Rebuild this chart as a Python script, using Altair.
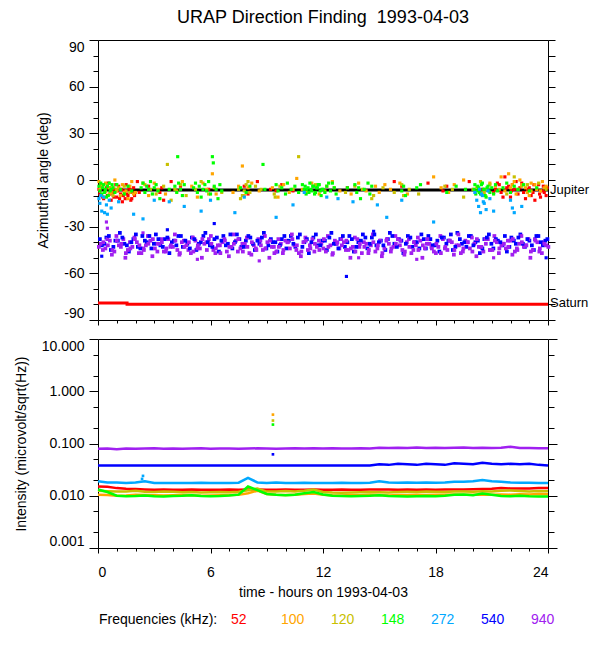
import altair as alt
import pandas as pd

FONT = "Liberation Sans"

# ---------------- categories / colours ----------------
FREQS = ["52", "100", "120", "148", "272", "540", "940"]
COLORS = ["#ff0000", "#ffa500", "#c8c000", "#00ff00", "#00a8ff", "#0000ff", "#a020f0"]

# ---------------- tick labels ----------------
HOUR_TICKS = [0, 1, 2, 3, 4, 5, 6, 7, 8, 9, 10, 11, 12, 13, 14, 15, 16, 17, 18, 19, 20, 21, 22, 23, 24]
ANGLE_TICKS = [-90, -80, -70, -60, -50, -40, -30, -20, -10, 0, 10, 20, 30, 40, 50, 60, 70, 80, 90]
LOG_TICKS = [0.001, 0.002, 0.005, 0.01, 0.02, 0.05, 0.1, 0.2, 0.5, 1, 2, 5, 10]

# ---------------- top panel: reference lines ----------------
JUP_T = [0, 24]
JUP_A = [-6.5, -6.5]
SAT_T = [0, 1.55, 24]
SAT_A = [-79, -79.8, -79.8]
LABEL_T = [24, 24]
LABEL_A = [-6.5, -79]
LABEL_TXT = ["Jupiter", "Saturn"]

# ---------------- top panel: direction-finding points (hour, angle) ----------------
PTS_52 = [(0.05,-6),(0.1,-9),(0.15,-3),(0.2,-4),(0.25,-11),(0.3,-12),(0.35,-8),(0.4,-7),(0.45,-5),(0.5,-10),
          (0.55,-2),(0.6,-5),(0.65,-9),(0.7,-13),(0.75,-6),(0.8,-8),(0.85,-11),(0.9,-6),(0.95,-3),(1.0,-11),
          (1.05,-7),(1.1,-4),(1.15,-12),(1.2,-9),(1.25,-6),(1.3,-14),(1.35,-10),(1.4,-7),(1.45,-12),(1.5,-3),
          (1.55,-9),(1.6,-10),(1.65,-5),(1.7,-6),(1.75,-13),(1.8,-12),(1.85,-8),(1.9,-5),(1.95,-10),
          (2.1,-1),(2.2,-8),(2.7,-4),(3.3,-8),(3.4,-5),(3.5,-13),(3.9,-1),(4.4,-4),(5.9,-6),(7.8,-4),(8.0,-9),
          (8.5,-1),(9.2,-6),(9.5,-7),(9.8,-3),(10.4,-7),(13.3,-5),(15.8,-1),(16.2,-4),(17.6,-2),(18.4,-7),
          (18.6,-4),(19.8,-1),(20.5,-6),
          (21.1,-8),(21.2,-6),(21.3,-2),(21.4,-3),(21.5,-8),(21.6,-11),(21.7,2),(21.8,-5),(21.9,-4),(22.0,-11),
          (22.05,-7),(22.1,-3),(22.2,-6),(22.3,-1),(22.4,-9),(22.5,-5),(22.6,-2),(22.7,-8),(22.8,-12),(22.9,-6),
          (23.0,-5),(23.1,-10),(23.2,-8),(23.25,-3),(23.3,-13),(23.4,-6),(23.5,-3),(23.55,-9),(23.6,-11),(23.7,-7),
          (23.75,-4),(23.8,-8),(23.9,-10),(23.95,-5)]
PTS_100 = [(0.05,-1),(0.1,-6),(0.2,-4),(0.3,-11),(0.4,-2),(0.5,-3),(0.6,-9),(0.7,-8),(0.8,-5),(0.9,0),
           (1.0,-7),(1.1,-5),(1.2,-10),(1.3,-3),(1.4,-8),(1.5,-7),(1.6,-12),(1.7,-4),(1.8,-1),(1.9,-9),
           (2.0,-8),(2.5,-3),(2.7,-10),(3.0,-2),(3.2,-6),(3.6,-9),(4.2,-7),(4.5,-1),(5.0,-4),(5.3,-11),
           (5.6,-2),(5.8,-6),(6.1,4),(6.3,-9),(7.2,-8),(7.5,-4),(7.7,9),(7.8,-10),(8.0,-5),(8.2,-2),
           (8.6,-7),(9.3,-5),(9.6,-11),(9.9,-3),(10.2,-8),(10.6,1),(10.9,-6),(11.4,-2),(11.8,-9),(12.2,-4),
           (12.5,-1),(12.9,-7),(13.5,-9),(13.9,-2),(14.3,-7),(14.8,-4),(15.0,-8),(15.3,-3),(15.6,-6),(16.1,-2),
           (16.5,-9),(17.9,2),(18.3,-5),(18.7,-8),(19.0,-3),(19.5,0),(20.0,-6),(20.5,-9),(20.9,-2),(21.2,-4),
           (21.5,2),(21.7,-7),(21.9,4),(22.0,-5),(22.1,-3),(22.2,-1),(22.3,-9),(22.4,-6),(22.5,0),(22.6,-3),
           (22.8,-5),(22.9,-8),(23.0,-10),(23.1,-2),(23.3,-3),(23.4,-6),(23.6,-7),(23.7,-1),(23.8,-5),(23.9,-4)]
PTS_120 = [(0.2,-3),(0.4,-7),(0.6,-5),(0.8,-10),(1.0,-6),(1.4,-4),(1.7,-8),(2.4,-2),(2.8,-6),(3.1,-9),
           (3.5,-4),(3.7,10),(3.9,-13),(4.1,-6),(4.4,-3),(4.7,-10),(5.2,-6),(5.5,-1),(5.9,-9),(6.2,-5),
           (6.6,-8),(7.5,-6),(7.6,-12),(7.7,-10),(7.8,-7),(7.9,-3),(8.0,-1),(8.1,-8),(8.4,-4),(8.7,-6),
           (9.4,-9),(9.45,-11),(9.7,-4),(10.4,-6),(10.7,15),(11.1,-8),(11.6,-3),(12.1,-7),(12.6,-5),(13.2,-8),
           (13.7,-4),(14.1,-6),(14.6,-12),(14.7,-10),(15.2,-5),(15.8,-8),(16.2,-3),(16.3,-10),(16.6,-6),(17.1,-9),
           (18.5,-4),(18.9,-6),(19.5,-11),(20.2,-5),(20.4,-1),(20.6,-8),(20.7,-6),(20.9,-3),(21.4,-6),(21.8,-9),
           (22.2,2),(22.6,-4),(22.9,-3),(23.1,-7),(23.5,-2),(23.9,-6)]
PTS_148 = [(0.05,-4),(0.1,-7),(0.15,-2),(0.2,-9),(0.25,-5),(0.3,-3),(0.35,-8),(0.4,-6),(0.45,-11),(0.5,-4),
           (0.55,-10),(0.6,-2),(0.65,-7),(0.7,-6),(0.75,-3),(0.8,-5),(0.9,-8),(1.0,-3),(1.2,-6),(1.4,-9),
           (1.6,-4),(1.8,-7),(2.3,-5),(2.4,-2),(2.5,-8),(2.6,-4),(2.7,-6),(2.8,-1),(2.9,-9),(3.0,-5),
           (3.1,-3),(3.2,-7),(3.3,-12),(3.8,-6),(4.1,-4),(4.2,-8),(4.25,15),(4.3,-2),(4.4,-6),(4.5,-10),
           (4.6,-3),(5.1,-5),(5.2,-2),(5.3,-8),(5.4,-4),(5.5,-11),(5.6,-6),(5.7,-3),(5.8,-7),(5.9,-1),
           (6.0,-9),(6.1,15),(6.15,11),(6.2,-4),(6.3,-6),(6.4,-12),(6.5,-3),(6.6,-7),(7.6,-5),(7.9,-8),
           (8.1,-4),(8.8,10),(8.9,-6),(9.5,-3),(9.6,-7),(9.8,-5),(10.0,-9),(10.1,-2),(10.3,-6),(10.5,-4),
           (10.7,-8),(10.9,-3),(11.0,-6),(11.05,-4),(11.1,-9),(11.15,-6),(11.2,-5),(11.25,-8),(11.3,-2),(11.35,-6),
           (11.4,-7),(11.45,-4),(11.5,-4),(11.55,-9),(11.6,-8),(11.65,-5),(11.7,-5),(11.75,-3),(11.8,-3),(11.85,-7),
           (11.9,-10),(11.95,-6),(12.0,-6),(12.1,-8),(12.2,-4),(12.3,-2),(12.4,-7),(12.5,-2),(12.6,-5),(12.7,-9),
           (13.3,-5),(13.7,-3),(13.8,-8),(13.9,-5),(14.0,-12),(14.2,-6),(14.4,-2),(14.5,-9),(14.6,-4),(16.2,-7),
           (16.3,-4),(16.4,-10),(17.0,-5),(17.2,-3),(18.6,-8),(19.1,-4),(19.6,-6),(20.05,-6),(20.1,-3),(20.15,-9),
           (20.2,-7),(20.25,-4),(20.3,-5),(20.35,-8),(20.4,-9),(20.45,-3),(20.5,-2),(20.55,-6),(20.6,-6),(20.65,-10),
           (20.7,-11),(20.75,-5),(20.8,-4),(20.85,-7),(20.9,-8),(21.0,-5),(21.1,-9),(21.2,-3),(21.3,-7),(21.6,-5),
           (21.8,-2),(22.0,-8),(22.2,-4),(22.4,-6),(22.7,-3),(23.0,-7),(23.4,-5)]
PTS_272 = [(0.05,-12),(0.1,-15),(0.15,-10),(0.2,-20),(0.3,-11),(0.35,-21),(0.45,-16),(0.5,-22),(0.6,-13),(0.7,-18),
           (1.1,-14),(1.9,-22),(2.4,-25),(3.0,-13),(3.8,-14),(4.6,-17),(5.5,-20),(6.0,-13),(7.3,-21),(7.8,-11),
           (9.5,-24),(10.4,-16),(11.0,-8),(12.2,-11),(12.8,-12),(13.6,-14),(14.9,-16),(15.4,-24),(16.2,-13),(17.9,-27),
           (20.1,-8),(20.2,-13),(20.3,-17),(20.35,-6),(20.4,-21),(20.45,-9),(20.5,-10),(20.55,-14),(20.6,-15),(20.7,-19),
           (20.8,-7),(20.9,-12),(21.1,-20),(22.0,-13),(22.1,-18),(22.2,-21),(22.6,-17)]
PTS_540_OUT = [(0.2,-49),(3.7,-32),(6.2,-28),(13.25,-62),(14.7,-33),(23.9,-50)]
PTS_940_OUT = [(0.45,-27),(0.5,-31),(2.4,-34),(5.3,-51),(8.6,-52),(13.9,-50),(17.0,-51),(21.1,-50)]

# dense band of 540 / 940 kHz directions
BAND_T = [0.10,0.34,0.58,0.82,1.06,1.30,1.54,1.78,2.02,2.26,2.50,2.74,2.98,3.22,3.46,3.70,3.94,4.18,4.42,4.66,
          4.90,5.14,5.38,5.62,5.86,6.10,6.34,6.58,6.82,7.06,7.30,7.54,7.78,8.02,8.26,8.50,8.74,8.98,9.22,9.46,
          9.70,9.94,10.18,10.42,10.66,10.90,11.14,11.38,11.62,11.86,12.10,12.34,12.58,12.82,13.06,13.30,13.54,13.78,14.02,14.26,
          14.50,14.74,14.98,15.22,15.46,15.70,15.94,16.18,16.42,16.66,16.90,17.14,17.38,17.62,17.86,18.10,18.34,18.58,18.82,19.06,
          19.30,19.54,19.78,20.02,20.26,20.50,20.74,20.98,21.22,21.46,21.70,21.94,22.18,22.42,22.66,22.90,23.14,23.38,23.62,23.86]
B540_1 = [-38,-41,-36,-43,-39,-37,-42,-40,-35,-44,-39,-36,-41,-38,-43,-37,-40,-42,-36,-39,
          -44,-38,-41,-36,-40,-43,-37,-39,-42,-35,-40,-38,-43,-36,-41,-39,-37,-44,-38,-40,
          -42,-36,-39,-41,-37,-43,-38,-40,-35,-42,-39,-37,-41,-44,-36,-40,-38,-43,-39,-37,
          -41,-35,-40,-42,-38,-36,-43,-39,-41,-37,-40,-44,-38,-36,-42,-39,-37,-41,-35,-43,
          -38,-40,-36,-42,-39,-44,-37,-41,-38,-40,-36,-43,-39,-37,-41,-38,-42,-36,-40,-39]
B540_2 = [-42,-37,-45,-39,-34,-41,-46,-38,-43,-36,-40,-44,-35,-42,-38,-47,-39,-36,-43,-41,
          -37,-45,-40,-34,-42,-38,-46,-36,-41,-44,-35,-43,-39,-37,-45,-41,-34,-42,-40,-46,
          -38,-44,-36,-43,-35,-40,-47,-37,-42,-39,-45,-34,-41,-38,-43,-36,-46,-40,-35,-44,
          -37,-42,-39,-45,-34,-41,-38,-47,-36,-43,-40,-35,-44,-38,-42,-46,-37,-39,-45,-34,
          -41,-43,-36,-40,-47,-38,-35,-44,-39,-42,-46,-37,-41,-35,-43,-39,-45,-36,-42,-38]
B940_1 = [-41,-44,-39,-46,-42,-38,-45,-43,-40,-47,-42,-39,-44,-41,-46,-38,-43,-45,-40,-42,
          -47,-39,-44,-41,-38,-45,-42,-40,-46,-43,-39,-44,-41,-47,-42,-38,-45,-40,-43,-46,
          -41,-39,-44,-42,-47,-40,-45,-38,-43,-41,-46,-42,-39,-44,-40,-45,-43,-38,-47,-41,
          -42,-46,-39,-44,-41,-43,-38,-45,-40,-47,-42,-39,-44,-41,-46,-43,-38,-45,-40,-42,
          -47,-39,-44,-41,-43,-46,-38,-45,-40,-42,-44,-39,-46,-41,-43,-38,-45,-40,-47,-42]
B940_2 = [-45,-38,-48,-36,-43,-50,-40,-37,-47,-44,-36,-49,-41,-38,-46,-43,-35,-48,-39,-45,
          -37,-44,-50,-40,-36,-47,-42,-38,-49,-35,-46,-41,-37,-48,-44,-39,-36,-50,-43,-38,
          -47,-40,-35,-45,-49,-37,-42,-46,-39,-44,-36,-48,-41,-38,-45,-50,-37,-43,-40,-47,
          -35,-44,-49,-39,-46,-36,-42,-48,-38,-45,-37,-50,-41,-43,-47,-36,-44,-39,-48,-35,
          -46,-40,-37,-49,-43,-38,-45,-36,-47,-41,-39,-48,-44,-36,-42,-50,-38,-46,-40,-43]
B940_3 = [-43,-40,-42,-45,-39,-41,-47,-44,-38,-42,-45,-41,-38,-46,-40,-44,-42,-39,-47,-43,
          -40,-46,-42,-38,-45,-41,-44,-47,-39,-43,-41,-38,-46,-43,-40,-45,-42,-44,-39,-47,
          -43,-45,-40,-38,-42,-46,-39,-44,-41,-45,-38,-43,-47,-40,-42,-39,-44,-46,-41,-43,
          -45,-40,-42,-47,-38,-44,-41,-39,-46,-43,-40,-45,-42,-38,-44,-41,-47,-43,-39,-45,
          -42,-44,-40,-46,-38,-43,-41,-45,-39,-44,-41,-43,-38,-45,-40,-42,-46,-39,-44,-41]

# ---------------- bottom panel: intensities ----------------
HALF_HOURS = [0, 0.5, 1, 1.5, 2, 2.5, 3, 3.5, 4, 4.5, 5, 5.5, 6, 6.5, 7, 7.5, 8, 8.5, 9, 9.5,
              10, 10.5, 11, 11.5, 12, 12.5, 13, 13.5, 14, 14.5, 15, 15.5, 16, 16.5, 17, 17.5, 18, 18.5, 19, 19.5,
              20, 20.5, 21, 21.5, 22, 22.5, 23, 23.5, 24]
I_52 = [0.0150,0.0148,0.0140,0.0136,0.0135,0.0132,0.0130,0.0131,0.0130,0.0130,0.0131,0.0130,0.0130,0.0130,0.0131,0.0130,
        0.0132,0.0131,0.0130,0.0130,0.0131,0.0130,0.0130,0.0131,0.0130,0.0130,0.0131,0.0130,0.0130,0.0131,0.0132,0.0131,
        0.0130,0.0131,0.0130,0.0131,0.0130,0.0131,0.0132,0.0131,0.0133,0.0135,0.0136,0.0140,0.0138,0.0137,0.0138,0.0140,0.0140]
I_100 = [0.0105,0.0103,0.0100,0.0101,0.0104,0.0103,0.0102,0.0101,0.0102,0.0103,0.0102,0.0100,0.0101,0.0102,0.0103,0.0104,
         0.0112,0.0125,0.0108,0.0104,0.0103,0.0105,0.0108,0.0110,0.0104,0.0102,0.0101,0.0103,0.0102,0.0104,0.0103,0.0101,
         0.0103,0.0102,0.0104,0.0103,0.0105,0.0104,0.0106,0.0105,0.0104,0.0106,0.0105,0.0106,0.0105,0.0107,0.0106,0.0108,0.0107]
I_120 = [0.0125,0.0122,0.0120,0.0121,0.0124,0.0119,0.0118,0.0120,0.0119,0.0117,0.0118,0.0116,0.0117,0.0118,0.0117,0.0119,
         0.0128,0.0138,0.0120,0.0121,0.0123,0.0120,0.0125,0.0132,0.0118,0.0115,0.0114,0.0116,0.0117,0.0118,0.0117,0.0116,
         0.0118,0.0119,0.0118,0.0120,0.0119,0.0118,0.0120,0.0121,0.0119,0.0122,0.0121,0.0124,0.0126,0.0123,0.0121,0.0123,0.0122]
I_148 = [0.0132,0.0118,0.0100,0.0098,0.0099,0.0101,0.0098,0.0097,0.0099,0.0100,0.0102,0.0099,0.0098,0.0099,0.0101,0.0105,
         0.0150,0.0128,0.0108,0.0104,0.0102,0.0105,0.0112,0.0118,0.0106,0.0100,0.0099,0.0098,0.0099,0.0100,0.0102,0.0099,
         0.0098,0.0097,0.0098,0.0099,0.0098,0.0100,0.0104,0.0106,0.0102,0.0110,0.0104,0.0099,0.0098,0.0100,0.0098,0.0097,0.0097]
I_272 = [0.0190,0.0180,0.0180,0.0175,0.0180,0.0190,0.0175,0.0175,0.0175,0.0175,0.0175,0.0178,0.0175,0.0175,0.0175,0.0178,
         0.0220,0.0180,0.0175,0.0180,0.0175,0.0175,0.0178,0.0175,0.0175,0.0175,0.0178,0.0175,0.0175,0.0178,0.0190,0.0180,
         0.0178,0.0180,0.0178,0.0180,0.0178,0.0180,0.0185,0.0185,0.0190,0.0200,0.0190,0.0185,0.0180,0.0178,0.0178,0.0175,0.0175]
I_540 = [0.038,0.038,0.038,0.038,0.038,0.038,0.038,0.038,0.038,0.038,0.038,0.038,0.038,0.038,0.038,0.038,
         0.038,0.038,0.038,0.038,0.038,0.038,0.038,0.038,0.038,0.038,0.038,0.038,0.038,0.038,0.040,0.039,
         0.041,0.040,0.039,0.041,0.040,0.039,0.042,0.041,0.040,0.043,0.041,0.040,0.041,0.040,0.041,0.039,0.038]
I_940 = [0.079,0.080,0.078,0.080,0.079,0.080,0.081,0.079,0.080,0.079,0.080,0.081,0.079,0.080,0.080,0.079,
         0.080,0.081,0.080,0.079,0.080,0.081,0.080,0.081,0.080,0.081,0.080,0.080,0.081,0.080,0.083,0.082,
         0.083,0.082,0.084,0.082,0.083,0.082,0.083,0.084,0.082,0.083,0.082,0.083,0.087,0.082,0.082,0.081,0.081]
SPIKES = [("100", 9.33, 0.357), ("120", 9.33, 0.275), ("148", 9.33, 0.23), ("540", 9.33, 0.062),
          ("272", 2.35, 0.021), ("272", 2.4, 0.024)]

# ---------------- data frames ----------------
def pairs_df(pairs, freq):
    return pd.DataFrame({"t": [p[0] for p in pairs], "a": [p[1] for p in pairs], "freq": freq})

pts_df = pd.concat([pairs_df(PTS_52, "52"), pairs_df(PTS_100, "100"), pairs_df(PTS_120, "120"),
                    pairs_df(PTS_148, "148"), pairs_df(PTS_272, "272"),
                    pairs_df(PTS_540_OUT, "540"), pairs_df(PTS_940_OUT, "940")], ignore_index=True)

def band_df(vals, freq):
    return pairs_df(list(zip(BAND_T, vals)), freq)

jup_df = pd.DataFrame({"t": JUP_T, "a": JUP_A})
sat_df = pd.DataFrame({"t": SAT_T, "a": SAT_A})
lab_df = pd.DataFrame({"t": LABEL_T, "a": LABEL_A, "name": LABEL_TXT})

INT = {"52": I_52, "100": I_100, "120": I_120, "148": I_148, "272": I_272, "540": I_540, "940": I_940}
rows = []
for f in FREQS:
    for t, v in zip(HALF_HOURS, INT[f]):
        rows.append({"t": t, "v": v, "freq": f})
int_df = pd.DataFrame(rows)
spk_df = pd.DataFrame({"freq": [s[0] for s in SPIKES], "t": [s[1] for s in SPIKES], "v": [s[2] for s in SPIKES]})

# ---------------- encodings ----------------
color_expr = " : ".join(["datum.value == '%s' ? '%s'" % (f, c) for f, c in zip(FREQS, COLORS)]) + " : 'black'"
LEGEND = alt.Legend(orient="none", legendX=1, legendY=573, direction="horizontal",
                    title="Frequencies (kHz):", titleOrient="left", titleFont=FONT, titleFontSize=14,
                    titleFontWeight="normal", titleColor="black", titlePadding=-1,
                    labelFont=FONT, labelFontSize=14, labelColor={"expr": color_expr}, labelOffset=0,
                    symbolType="circle", symbolSize=1, symbolOpacity=0, symbolStrokeWidth=0,
                    columnPadding=12, gridAlign="all")
COLOR = alt.Color("freq:N", scale=alt.Scale(domain=FREQS, range=COLORS), legend=LEGEND)

x_tick = {"condition": {"test": "datum.value % 6 == 0", "value": 5}, "value": 3}
X_SCALE = alt.Scale(domain=[0, 24], nice=False, zero=False)
X_TOP = alt.X("t:Q", scale=X_SCALE, axis=alt.Axis(values=HOUR_TICKS, labels=False, title=None,
                                                  domain=False, tickSize=x_tick))
X_BOT = alt.X("t:Q", scale=X_SCALE, axis=alt.Axis(values=HOUR_TICKS, labelOverlap=False,
                                                  labelExpr="datum.value % 6 == 0 ? datum.label : ''",
                                                  title="time - hours on 1993-04-03", domain=False,
                                                  tickSize=x_tick, labelPadding=12, titlePadding=6))

A_SCALE = alt.Scale(domain=[-90, 90], nice=False, zero=False)
Y_LEFT = alt.Y("a:Q", scale=A_SCALE, axis=alt.Axis(
    values=ANGLE_TICKS, labelOverlap=False, labelFlush=True,
    labelExpr="datum.value % 30 == 0 ? '' + datum.value : ''",
    tickSize={"condition": {"test": "datum.value % 30 == 0", "value": 9}, "value": 5},
    labelPadding=5, title="Azimuthal angle (deg)", titlePadding=13, domain=False))
Y_NONE = alt.Y("a:Q", scale=A_SCALE, axis=None)
Y_RIGHT = alt.Y("a:Q", scale=A_SCALE, axis=alt.Axis(orient="right", values=ANGLE_TICKS, labels=False,
                                                    title=None, tickSize=7, domain=False))

decade = "(datum.value == 0.001 || datum.value == 0.01 || datum.value == 0.1 || datum.value == 1 || datum.value == 10)"
V_SCALE = alt.Scale(type="log", domain=[0.001, 10], nice=False)
V_LEFT = alt.Y("v:Q", scale=V_SCALE, axis=alt.Axis(
    values=LOG_TICKS, format=".3f", labelOverlap=False, labelFlush=True,
    labelExpr=decade + " ? datum.label : ''",
    tickSize={"condition": {"test": decade, "value": 9}, "value": 5},
    labelPadding=5, title="Intensity (microvolt/sqrt(Hz))", titlePadding=13, domain=False))
V_RIGHT = alt.Y("v:Q", scale=V_SCALE, axis=alt.Axis(
    orient="right", values=LOG_TICKS, labels=False, title=None, domain=False,
    tickSize={"condition": {"test": decade, "value": 9}, "value": 6}))

# ---------------- top panel ----------------
jup = alt.Chart(jup_df).mark_line(color="black", strokeWidth=3).encode(x=X_TOP, y=Y_NONE)
sat = alt.Chart(sat_df).mark_line(color="#ff0000", strokeWidth=3, interpolate="step-after").encode(x=X_TOP, y=Y_NONE)
pts = alt.Chart(pts_df).mark_square(size=10, opacity=1).encode(x=X_TOP, y=Y_LEFT, color=COLOR)

def band_layer(vals, freq, off):
    return alt.Chart(band_df(vals, freq)).mark_square(size=14, opacity=1, xOffset=off).encode(
        x=X_TOP, y=Y_NONE, color=COLOR)

bands = [band_layer(B540_2, "540", 2), band_layer(B940_1, "940", 1), band_layer(B940_2, "940", 3),
         band_layer(B540_1, "540", 0), band_layer(B940_3, "940", -1)]
labels = alt.Chart(lab_df).mark_text(align="left", baseline="middle", dx=2, font=FONT, fontSize=13,
                                     color="black").encode(x=X_TOP, y=Y_RIGHT, text="name:N")

top = alt.layer(jup, sat, pts, *bands, labels).properties(
    width=450, height=280,
    title=alt.TitleParams("URAP Direction Finding \u00a01993-04-03", font=FONT, fontSize=18,
                          fontWeight="normal", anchor="middle", offset=13, color="black"),
).resolve_axis(y="independent")

# ---------------- bottom panel ----------------
lines = alt.Chart(int_df).mark_line(strokeWidth=2.5).encode(x=X_BOT, y=V_LEFT, color=COLOR, detail="freq:N")
spikes = alt.Chart(spk_df).mark_square(size=7, opacity=1).encode(x=X_BOT, y=V_RIGHT, color=COLOR)
bottom = alt.layer(lines, spikes).properties(width=450, height=209).resolve_axis(y="independent")

chart = alt.vconcat(top, bottom, spacing=12).properties(
    padding={"left": 5, "top": 0, "right": 0, "bottom": 0}
).configure_view(stroke="black", strokeWidth=1).configure_axis(
    labelFont=FONT, titleFont=FONT, labelFontSize=14, titleFontSize=14, titleFontWeight="normal",
    labelColor="black", titleColor="black", tickColor="black", grid=False
)

chart.save("out.html", embed_options={"renderer": "svg", "actions": False})
